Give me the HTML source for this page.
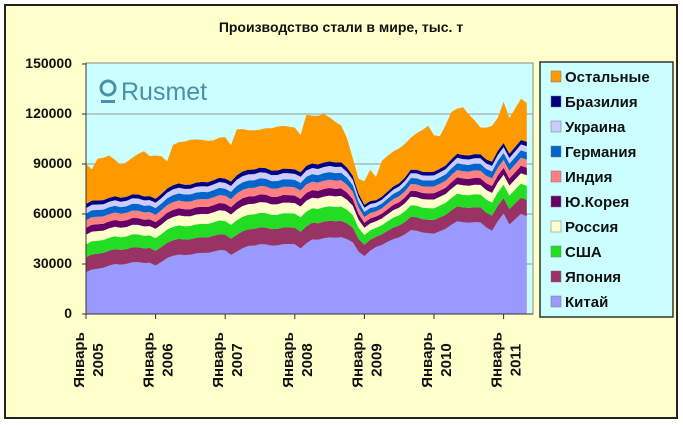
<!DOCTYPE html>
<html><head><meta charset="utf-8"><style>
body{margin:0;width:683px;height:425px;background:#fff;overflow:hidden}
svg{display:block;font-family:"Liberation Sans",sans-serif}
</style></head><body>
<svg id="s" width="683" height="425" viewBox="0 0 683 425">
<rect x="5" y="5" width="672" height="413" fill="#FFFFCC" stroke="#222" stroke-width="2"/>
<text x="341" y="32" font-size="14" font-weight="bold" text-anchor="middle" fill="#111">Производство стали в мире, тыс. т</text>
<rect x="86" y="63" width="447" height="251" fill="#CCFFFF" stroke="#888" stroke-width="1"/>
<g id="grid" stroke="#999" stroke-width="1"></g>
<g id="areas"></g>
<g id="axes" stroke="#333" stroke-width="1"></g>
<g font-size="14" font-weight="bold" text-anchor="end" fill="#111">
<text x="72" y="68">150000</text><text x="72" y="118">120000</text><text x="72" y="168">90000</text>
<text x="72" y="218">60000</text><text x="72" y="268">30000</text><text x="72" y="318">0</text>
</g>
<g id="xl" font-size="15" font-weight="bold" fill="#111"></g>
<g fill="#4a90a8">
<circle cx="108" cy="88" r="7" fill="none" stroke="#4a90a8" stroke-width="3"/>
<rect x="101" y="100" width="14" height="3"/>
<text x="121" y="100" font-size="25" fill="#4a90a8">Rusmet</text>
</g>
<rect x="540" y="62" width="133" height="255" fill="#CCFFFF" stroke="#333" stroke-width="1.5"/>
<g id="leg" font-size="15" font-weight="bold" fill="#111"></g>
</svg>
<script>
function interp(pts,i){var k=Object.keys(pts).map(Number).sort(function(a,b){return a-b});
for(var j=0;j<k.length-1;j++){if(i>=k[j]&&i<=k[j+1]){var t=(i-k[j])/(k[j+1]-k[j]);return pts[k[j]]*(1-t)+pts[k[j+1]]*t;}}return pts[k[k.length-1]];}
var china={0:25,2:27,5:30,11:31,12:29,14:34,18:36,24:38,25:36,28:41,36:42,37:39,39:45,44:46,46:43,47:38,48:35,50:40,52:43,56:50,60:48,61:50,64:55,68:55,70:50,72:60,73:54,75:60,76:59};
var total={0:90,1:86,2:93,4:95,6:90,8:93,10:98,11:95,13:95,14:92,15:101,18:105,22:104,24:106,25:102,26:111,30:110,33:113,36:112,37:107,38:119,41:120,44:113,45:105,47:82,48:80,49:86,50:82,51:92,54:100,57:108,59:113,60:107,61:107,63:121,65:124,68:112,70:113,71:117,72:127,73:118,75:129,76:127};
var mid={0:41,12:40,14:42,24:43,26:46,36:45,38:46,44:45,46:40,48:31,50:28,52:30,56:36,60:37,64:40,72:42,76:45};
var fr=[.22,.19,.14,.1,.11,.1,.08,.06];
var cols=["#9999FF","#993366","#22DD22","#FFFFCC","#660066","#FF8080","#0066CC","#CCCCFF","#000080","#FF9900"];
var names=["Китай","Япония","США","Россия","Ю.Корея","Индия","Германия","Украина","Бразилия","Остальные"];
var N=77,X=function(i){return 86+i*5.8},Y=function(v){return 314-v*250/150};
var B=[];for(var i=0;i<N;i++){var n=Math.sin(i*1.7)*0.8+Math.sin(i*0.9)*0.6;var c=interp(china,i)+n*0.5;var m=interp(mid,i)+n*0.4;var r=[0,c];var acc=c;for(var f=0;f<8;f++){acc+=m*fr[f];r.push(acc)}var t=Math.max(interp(total,i)+n*0.6,acc+3);r.push(t);B.push(r)}
var g=document.getElementById('areas'),h='';
for(var L=0;L<10;L++){var d='M'+X(0)+','+Y(B[0][L+1]);for(var i=1;i<N;i++)d+='L'+X(i).toFixed(1)+','+Y(B[i][L+1]).toFixed(1);for(var i=N-1;i>=0;i--)d+='L'+X(i).toFixed(1)+','+Y(B[i][L]).toFixed(1);h+='<path d="'+d+'Z" fill="'+cols[L]+'"/>'}
g.innerHTML=h;
var gr='';for(var v=30;v<=120;v+=30)gr+='<line x1="86" x2="533" y1="'+Y(v)+'" y2="'+Y(v)+'"/>';document.getElementById('grid').innerHTML=gr;
var ax='<line x1="86" y1="63" x2="86" y2="314"/><line x1="86" y1="314" x2="533" y2="314"/>';
for(var v=0;v<=150;v+=30)ax+='<line x1="82" x2="86" y1="'+Y(v)+'" y2="'+Y(v)+'"/>';
var xl='';for(var y=0;y<7;y++){var x=86+y*69.6;ax+='<line x1="'+x+'" x2="'+x+'" y1="314" y2="319"/>';
xl+='<text transform="translate('+(x-2)+',360) rotate(-90)" text-anchor="middle">Январь</text><text transform="translate('+(x+17)+',360) rotate(-90)" text-anchor="middle">'+(2005+y)+'</text>'}
document.getElementById('axes').innerHTML=ax;document.getElementById('xl').innerHTML=xl;
var lg='';for(var k=0;k<10;k++){var L=9-k,yy=77+k*25;lg+='<rect x="551" y="'+(yy-6)+'" width="10" height="11" fill="'+cols[L]+'" stroke="#777" stroke-width="0.5"/><text x="565" y="'+(yy+5)+'">'+names[L]+'</text>'}
document.getElementById('leg').innerHTML=lg;
</script>
</body></html>
